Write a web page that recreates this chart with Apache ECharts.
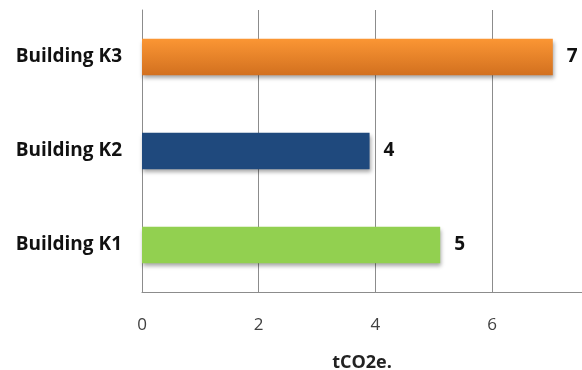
<!DOCTYPE html>
<html>
<head>
<meta charset="utf-8">
<script src="https://cdn.jsdelivr.net/npm/echarts@6/dist/echarts.min.js"></script>
<style>
  html, body { margin: 0; padding: 0; background: #fff; }
  #main { width: 582px; height: 370px; }
</style>
</head>
<body>
<div id="main"></div>
<script>
// categories, bottom to top
var buildings = ['Building K1', 'Building K2', 'Building K3'];
var emissions = [5.11, 3.9, 7.04];
var barColors = ['#92d050', '#1f497d', '#f7922f'];

var myChart = echarts.init(document.getElementById('main'));

var font = '"Open Sans", "Liberation Sans", sans-serif';

var option = {
  animation: false,
  grid: { left: 142, right: 0, top: 10, bottom: 78, outerBoundsMode: 'none' },
  xAxis: {
    type: 'value',
    min: 0,
    max: 7.54, // axis runs off the right edge of the picture
    interval: 2,
    name: 'tCO2e.',
    nameLocation: 'middle',
    nameGap: 62,
    nameTextStyle: { fontFamily: font, fontWeight: 'bold', fontSize: 18, color: '#222' },
    axisLine: { show: true, lineStyle: { color: '#8c8c8c', width: 1 } },
    axisTick: { show: false },
    axisLabel: { fontFamily: font, fontSize: 17, color: '#404040', margin: 25, showMaxLabel: false },
    splitLine: { show: true, lineStyle: { color: '#8c8c8c', width: 1 } }
  },
  yAxis: {
    type: 'category',
    data: buildings,
    axisLine: { show: true, lineStyle: { color: '#8c8c8c', width: 1 } },
    axisTick: { show: false },
    axisLabel: { fontFamily: font, fontWeight: 'bold', fontSize: 19, color: '#111', margin: 20 }
  },
  series: [{
    type: 'bar',
    barWidth: '39%',
    data: emissions.map(function (v, i) {
      var col = barColors[i];
      if (i == 2) {
        col = new echarts.graphic.LinearGradient(0, 0, 0, 1, [
          { offset: 0, color: '#fb9634' },
          { offset: 1, color: '#d2701f' }
        ]);
      }
      return {
        value: v,
        itemStyle: {
          color: col,
          shadowColor: 'rgba(0,0,0,0.35)',
          shadowBlur: 4,
          shadowOffsetY: 3,
          shadowOffsetX: 1
        }
      };
    }),
    label: {
      show: true,
      position: 'right',
      distance: 14,
      fontFamily: font,
      fontWeight: 'bold',
      fontSize: 19,
      color: '#111',
      formatter: function (p) { return Math.round(p.value); }
    }
  }]
};

myChart.setOption(option);
</script>
</body>
</html>
